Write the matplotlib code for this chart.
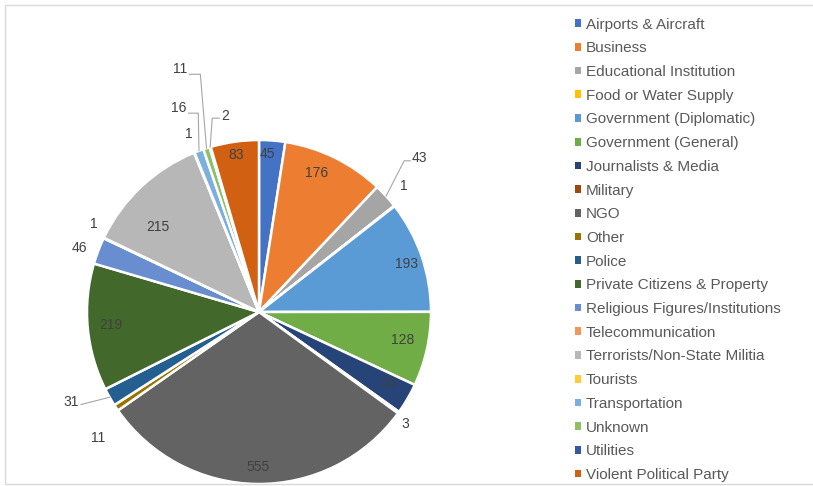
import numpy as np
import matplotlib.pyplot as plt
from matplotlib.patches import Rectangle, Patch

categories = ["Airports & Aircraft", "Business", "Educational Institution",
              "Food or Water Supply", "Government (Diplomatic)", "Government (General)",
              "Journalists & Media", "Military", "NGO", "Other", "Police",
              "Private Citizens & Property", "Religious Figures/Institutions",
              "Telecommunication", "Terrorists/Non-State Militia", "Tourists",
              "Transportation", "Unknown", "Utilities", "Violent Political Party"]
counts = [45, 176, 43, 1, 193, 128, 53, 3, 555, 11, 31, 219, 46, 1, 215, 1, 16, 11, 2, 83]

colors = ["#4472C4", "#ED7D31", "#A5A5A5", "#FFC000", "#5B9BD5", "#70AD47",
          "#264478", "#9E480E", "#636363", "#997300", "#255E91", "#43682B",
          "#698ED0", "#F1975A", "#B7B7B7", "#FFCD33", "#7CAFDD", "#8CC168",
          "#335AA1", "#D26012"]

# label placement: inside labels by (radius, angle clockwise from top)
inside = {0: (0.92, 3), 1: (0.875, 22.5), 4: (0.9, 72), 5: (0.85, 101),
          6: (0.86, 118.5), 8: (0.9, 180.5), 11: (0.865, 265), 14: (0.77, 310),
          19: (0.92, 351.7)}
outside = {3: (1.115, 49), 7: (1.07, 127.5), 9: (1.19, 232), 12: (1.11, 289.5),
           13: (1.09, 298), 15: (1.11, 338.4)}
# leader-line labels: elbow, end, text pos, alignment
leaders = {2: ((0.844, 0.879), (0.879, 0.879), (0.886, 0.896), "left"),
           10: ((-1.035, -0.538), (-1.035, -0.538), (-1.046, -0.526), "right"),
           16: ((-0.353, 1.156), (-0.41, 1.156), (-0.422, 1.185), "right"),
           17: ((-0.341, 1.382), (-0.405, 1.382), (-0.416, 1.41), "right"),
           18: ((-0.272, 1.127), (-0.231, 1.127), (-0.22, 1.139), "left")}

plt.rcParams['font.family'] = ['Liberation Sans', 'DejaVu Sans']
W, H = 813, 486
cx, cy, R = 259, 312, 172

fig = plt.figure(figsize=(W / 100, H / 100), dpi=100)
ax = fig.add_axes([0, 0, 1, 1])

wedges, _ = ax.pie(counts, colors=colors, startangle=90, counterclock=False,
                   radius=1, center=(0, 0), frame=True,
                   wedgeprops=dict(edgecolor="white", linewidth=1.8))
ax.set_xlim(-cx / R, (W - cx) / R)
ax.set_ylim(-(H - cy) / R, cy / R)
ax.set_aspect("equal")
ax.axis("off")

total = sum(counts)
cum = np.cumsum([0] + counts)
mids = [(cum[i] + cum[i + 1]) / 2 / total * 360 for i in range(len(counts))]

def polar(r, a):
    t = np.deg2rad(a)
    return r * np.sin(t), r * np.cos(t)

lab_kw = dict(fontsize=10, color="#404040")
for i, (r, a) in inside.items():
    x, y = polar(r, a)
    ax.text(x, y, str(counts[i]), ha="center", va="center", **lab_kw)
for i, (r, a) in outside.items():
    x, y = polar(r, a)
    ax.text(x, y, str(counts[i]), ha="center", va="center", **lab_kw)
for i, (elbow, end, tp, ha) in leaders.items():
    ex, ey = polar(1.0, mids[i])
    ax.plot([ex, elbow[0], end[0]], [ey, elbow[1], end[1]], color="#A6A6A6", lw=0.8)
    ax.text(tp[0], tp[1], str(counts[i]), ha=ha, va="center", **lab_kw)

handles = [Patch(facecolor=w.get_facecolor(), edgecolor="none") for w in wedges]
leg = ax.legend(handles, categories, loc="upper left", bbox_to_anchor=(567 / W, 1 - 10 / H),
                bbox_transform=fig.transFigure, frameon=False, fontsize=11,
                handlelength=0.4, handleheight=0.4, handletextpad=0.33,
                labelspacing=0.635, borderpad=0)
for t in leg.get_texts():
    t.set_color("#595959")

fig.patches.append(Rectangle((5 / W, 2 / H), 1.0, (H - 7) / H, transform=fig.transFigure,
                             fill=False, edgecolor="#D9D9D9", lw=1))

fig.savefig("out.png", dpi=100)
